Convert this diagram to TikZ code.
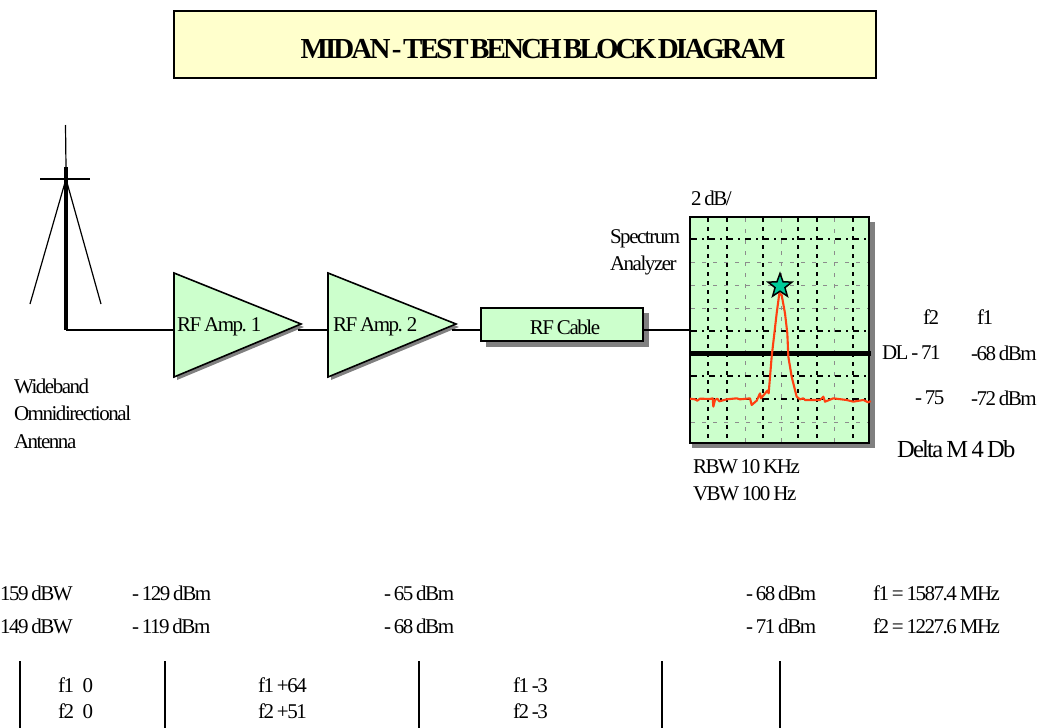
\documentclass[tikz,border=0pt]{standalone}
\usepackage{fontspec}
\setmainfont[LetterSpace=-7,WordSpace=0.75]{Liberation Serif}
\newfontfamily\titlefont[LetterSpace=-10,WordSpace=0.35]{Liberation Serif Bold}
\usetikzlibrary{shapes.geometric}
\definecolor{lgreen}{HTML}{CCFFCC}
\definecolor{lyellow}{HTML}{FFFFCC}
\definecolor{shadowgrey}{HTML}{808080}
\definecolor{startrace}{HTML}{FF4010}
\definecolor{starfill}{HTML}{00CC99}
\tikzset{
  lbl/.style={inner sep=0pt,outer sep=0pt,font=\fontsize{21}{21}\selectfont,anchor=west},
  lblc/.style={inner sep=0pt,outer sep=0pt,font=\fontsize{21}{21}\selectfont},
  wire/.style={draw=black,line width=1.5pt},
  thin wire/.style={draw=black,line width=1.2pt},
  blockbox/.style={draw=black,line width=1.6pt,fill=lgreen,inner sep=0pt},
  gridv/.style={draw=black,line width=1.6pt,dash pattern=on 3.5pt off 5.5pt},
  gridh/.style={draw=black,line width=1.4pt,dash pattern=on 6pt off 5pt on 2pt off 5pt},
  gridfaint/.style={draw=black!45,line width=0.7pt,dash pattern=on 4pt off 7pt},
}
\begin{document}
\begin{tikzpicture}[x=1pt,y=-1pt]
\useasboundingbox (0,0) rectangle (1042,728);
% title
\node[draw=black,line width=1.2pt,fill=lyellow,minimum width=702pt,minimum height=67pt,inner sep=0pt] (title) at (525,44.5) {};
\node[inner sep=0pt,font=\fontsize{29}{29}\titlefont] (titlelab) at (543,49) {MIDAN - TEST BENCH BLOCK DIAGRAM};
% antenna
\coordinate (antTop) at (65.5,125);
\coordinate (antThick) at (66,167);
\coordinate (antFoot) at (66,330);
\coordinate (antHub) at (66,179);
\coordinate (barL) at (40,179);
\coordinate (barR) at (90,179);
\coordinate (legL) at (30,304);
\coordinate (legR) at (101,304);
\draw[thin wire] (antTop) -- (antThick);
\draw[draw=black,line width=3.6pt] (antThick) -- (antFoot);
\draw[thin wire] (barL) -- (barR);
\draw[thin wire] (antHub) -- (legL);
\draw[thin wire] (antHub) -- (legR);
% amps
\fill[shadowgrey] (177,276) -- (304,327) -- (177,380) -- cycle;
\fill[shadowgrey] (331,276) -- (459,327) -- (331,380) -- cycle;
\draw[blockbox] (174,273) coordinate (a1t) -- (301,324) coordinate (a1o) -- (174,377) coordinate (a1b) -- cycle;
\draw[blockbox] (328,273) coordinate (a2t) -- (456,324) coordinate (a2o) -- (328,377) coordinate (a2b) -- cycle;
\coordinate (a1in) at (174,330);
\coordinate (a1out) at (298,330);
\coordinate (a2in) at (328,330);
\coordinate (a2out) at (452,330);
\node[lbl] (a1lab) at (177,327) {RF Amp. 1};
\node[lbl] (a2lab) at (333,327) {RF Amp. 2};
% cable
\fill[shadowgrey] (486,313) rectangle (649,347);
\node[blockbox,minimum width=162pt,minimum height=33pt] (cable) at (562,324.5) {};
\node[lblc] (cablelab) at (565,327) {RF Cable};
% scope
\fill[shadowgrey] (692,222) rectangle (875,448);
\node[draw=black,line width=1.6pt,fill=lgreen,minimum width=179pt,minimum height=226pt,inner sep=0pt] (scope) at (779.5,330) {};
\foreach \gx in {745,781,834} \draw[gridfaint] (\gx,218) -- (\gx,442);
\foreach \gy in {262,285,308,422} \draw[gridfaint] (691,\gy) -- (868,\gy);
\foreach \gx in {708,727,763,798,817,853} \draw[gridv] (\gx,218) -- (\gx,442);
\foreach \gy in {239,331,376,399} \draw[gridh] (691,\gy) -- (868,\gy);
\node[draw=black,line width=1.6pt,fill=none,minimum width=179pt,minimum height=226pt,inner sep=0pt] (scopeframe) at (779.5,330) {};
\coordinate (dlL) at (690,353.5);
\coordinate (dlR) at (871,353.5);
\draw[draw=black,line width=5.2pt] (dlL) -- (dlR);
\begin{scope}[shift={(660,180)},x=0.333333pt,y=-0.333333pt]
\draw[startrace,line width=2.1pt,line join=round] (90,656)--(105,658)--(112,662)--(120,656)--(150,657)--(158,655)--(160,680)--(165,660)--(172,656)--(178,664)--(200,658)--(230,655)--(240,658)--(270,655)--(275,675)--(290,662)--(300,640)--(303,655)--(322,632)--(326,640)--(335,530)--(350,400)--(358,340)--(365,345)--(375,400)--(382,460)--(385,530)--(395,590)--(410,650)--(420,658)--(430,655)--(435,660)--(480,660)--(490,650)--(495,665)--(520,655)--(560,660)--(580,665)--(610,660)--(625,667)--(632,663);
\end{scope}
\node[star,star points=5,star point ratio=2.4,minimum size=25pt,inner sep=0pt,draw=black,line width=1.5pt,fill=starfill] (mark) at (780,286) {};
% connectors
\draw[wire] (antFoot) -- (a1in);
\draw[wire] (a1out) -- (a2in);
\draw[wire] (a2out) -- (a2out -| cable.west);
\draw[wire] (a2out -| cable.east) -- (a2out -| scope.west);
% labels
\node[lbl] (t1) at (14,386) {Wideband};
\node[lbl] (t2) at (14,413) {Omnidirectional};
\node[lbl] (t3) at (14,442) {Antenna};
\node[lbl] (t4) at (691,198) {2 dB/};
\node[lbl] (t5) at (610,239) {Spectrum};
\node[lbl] (t6) at (610,265) {Analyzer};
\node[lbl] (t7) at (923,317) {f2};
\node[lbl] (t8) at (977,317) {f1};
\node[lbl] (t9) at (882,353) {DL - 71};
\node[lbl] (t10) at (971,353) {-68 dBm};
\node[lbl] (t11) at (915,398) {- 75};
\node[lbl] (t12) at (971,398) {-72 dBm};
\node[lbl,font=\fontsize{24.5}{24.5}\selectfont] (t13) at (897,449) {Delta M 4 Db};
\node[lbl] (t14) at (693,467) {RBW 10 KHz};
\node[lbl] (t15) at (693,494) {VBW 100 Hz};
% bottom
\node[lbl] (r1a) at (0,593) {159 dBW};
\node[lbl] (r2a) at (0,626) {149 dBW};
\node[lbl] (r1b) at (132,593) {- 129 dBm};
\node[lbl] (r2b) at (132,626) {- 119 dBm};
\node[lbl] (r1c) at (384,593) {- 65 dBm};
\node[lbl] (r2c) at (384,626) {- 68 dBm};
\node[lbl] (r1d) at (746,593) {- 68 dBm};
\node[lbl] (r2d) at (746,626) {- 71 dBm};
\node[lbl] (r1e) at (873,593) {f1 = 1587.4 MHz};
\node[lbl] (r2e) at (873,626) {f2 = 1227.6 MHz};
\node[lbl] (g1a) at (58,685) {f1\ \ \ 0};
\node[lbl] (g1b) at (58,711) {f2\ \ \ 0};
\node[lbl] (g2a) at (258,685) {f1 +64};
\node[lbl] (g2b) at (258,711) {f2 +51};
\node[lbl] (g3a) at (513,685) {f1 -3};
\node[lbl] (g3b) at (513,711) {f2 -3};
\foreach \vx/\nm in {20/a,165/b,419/c,662/d,780/e} {
  \coordinate (vt\nm) at (\vx,661);
  \coordinate (vb\nm) at (\vx,728);
  \draw[wire] (vt\nm) -- (vb\nm);
}
\end{tikzpicture}
\end{document}
